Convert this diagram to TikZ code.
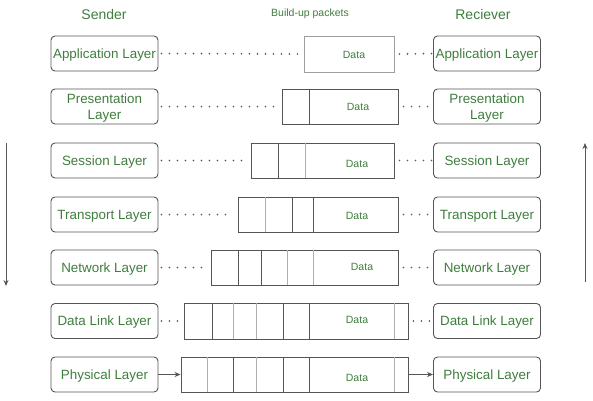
\documentclass[tikz,border=0pt]{standalone}
\usepackage{fontspec}
\setmainfont{Liberation Sans}
\usetikzlibrary{arrows.meta}
\definecolor{txtgreen}{HTML}{3E7D3E}
\definecolor{edge}{HTML}{555555}
\definecolor{light}{HTML}{B0B0B0}
\begin{document}
\begin{tikzpicture}[x=1pt,y=-1pt,
  layer/.style={draw=edge, line width=0.9pt, rounded corners=4pt, minimum width=107pt, minimum height=35pt, inner sep=1pt, align=center, text=txtgreen, text depth=0pt, font=\fontsize{13.4}{16}\selectfont},
  packet/.style={draw=edge, line width=0.9pt, inner sep=0pt},
  div/.style={edge, line width=0.9pt},
  ldiv/.style={light, line width=0.9pt},
  datatxt/.style={text=txtgreen, font=\fontsize{10.5}{12}\selectfont},
  dots/.style={edge, line width=1.9pt, line cap=round, dash pattern=on 0pt off 8pt},
  conn/.style={edge, line width=0.9pt, -{Stealth[length=6pt,width=5pt]}},
  title/.style={text=txtgreen, font=\fontsize{14}{16}\selectfont}]
\useasboundingbox (0,0) rectangle (593,400);
% titles
\node[title] (sender) at (104,14) {Sender};
\node[title] (recv) at (483,14) {Reciever};
\node[text=txtgreen, font=\fontsize{10.5}{12}\selectfont] (build) at (310,14) {Build-up packets};
% layer boxes
\foreach \n/\y/\t in {1/53.5/Application Layer, 2/106.5/{Presentation\\Layer}, 3/160.5/Session Layer, 4/214.5/Transport Layer, 5/267.5/Network Layer, 6/321/Data Link Layer, 7/374.5/Physical Layer}{
  \node[layer] (L\n) at (104.5,\y) {\t};
  \node[layer] (R\n) at (487,\y) {\t};
}
% packets
\node[packet, minimum width=90pt, minimum height=36pt, draw=light!80!edge] (p1) at (349,54) {};
\node[packet, minimum width=116pt, minimum height=35pt] (p2) at (340,106.5) {};
\node[packet, minimum width=143pt, minimum height=35pt] (p3) at (322.5,160.5) {};
\node[packet, minimum width=160pt, minimum height=35pt] (p4) at (318,214.5) {};
\node[packet, minimum width=187pt, minimum height=35pt] (p5) at (304.5,267.5) {};
\node[packet, minimum width=224pt, minimum height=36pt] (p6) at (296,321) {};
\node[packet, minimum width=227pt, minimum height=35pt] (p7) at (294.5,374.5) {};
% dividers
\draw[div] (309,89) -- (309,124);
\draw[div] (278,143) -- (278,178);
\draw[ldiv] (305,143) -- (305,178);
\draw[ldiv] (265,197) -- (265,232);
\draw[div] (292,197) -- (292,232);
\draw[div] (313,197) -- (313,232);
\draw[div] (238,250) -- (238,285);
\draw[div] (261,250) -- (261,285);
\draw[ldiv] (287,250) -- (287,285);
\draw[ldiv] (313,250) -- (313,285);
\draw[div] (212,303) -- (212,339);
\draw[ldiv] (233,303) -- (233,339);
\draw[ldiv] (256,303) -- (256,339);
\draw[div] (283,303) -- (283,339);
\draw[div] (309,303) -- (309,339);
\draw[ldiv] (394,303) -- (394,339);
\draw[ldiv] (207,357) -- (207,392);
\draw[div] (233,357) -- (233,392);
\draw[ldiv] (256,357) -- (256,392);
\draw[div] (283,357) -- (283,392);
\draw[div] (309,357) -- (309,392);
\draw[ldiv] (394,357) -- (394,392);
% data labels
\node[datatxt] (d1) at (354,55) {Data};
\node[datatxt] (d2) at (358,107) {Data};
\node[datatxt] (d3) at (357,164) {Data};
\node[datatxt] (d4) at (357,216) {Data};
\node[datatxt] (d5) at (362,267) {Data};
\node[datatxt] (d6) at (357,320) {Data};
\node[datatxt] (d7) at (357,378) {Data};
% dotted connectors
\foreach \n in {1,...,6}{
  \draw[dots] ([xshift=3pt]L\n.east) -- ([xshift=-6pt]p\n.west);
  \draw[dots] ([xshift=5pt]p\n.east) -- ([xshift=-1pt]R\n.west);
}
\draw[conn] (L7.east) -- (p7.west);
\draw[conn] (p7.east) -- (R7.west);
% direction arrows
\coordinate (a1) at (6,143);
\coordinate (a2) at (6,286);
\coordinate (b1) at (585,282);
\coordinate (b2) at (585,143);
\draw[conn] (a1) -- (a2);
\draw[conn] (b1) -- (b2);
\end{tikzpicture}
\end{document}
